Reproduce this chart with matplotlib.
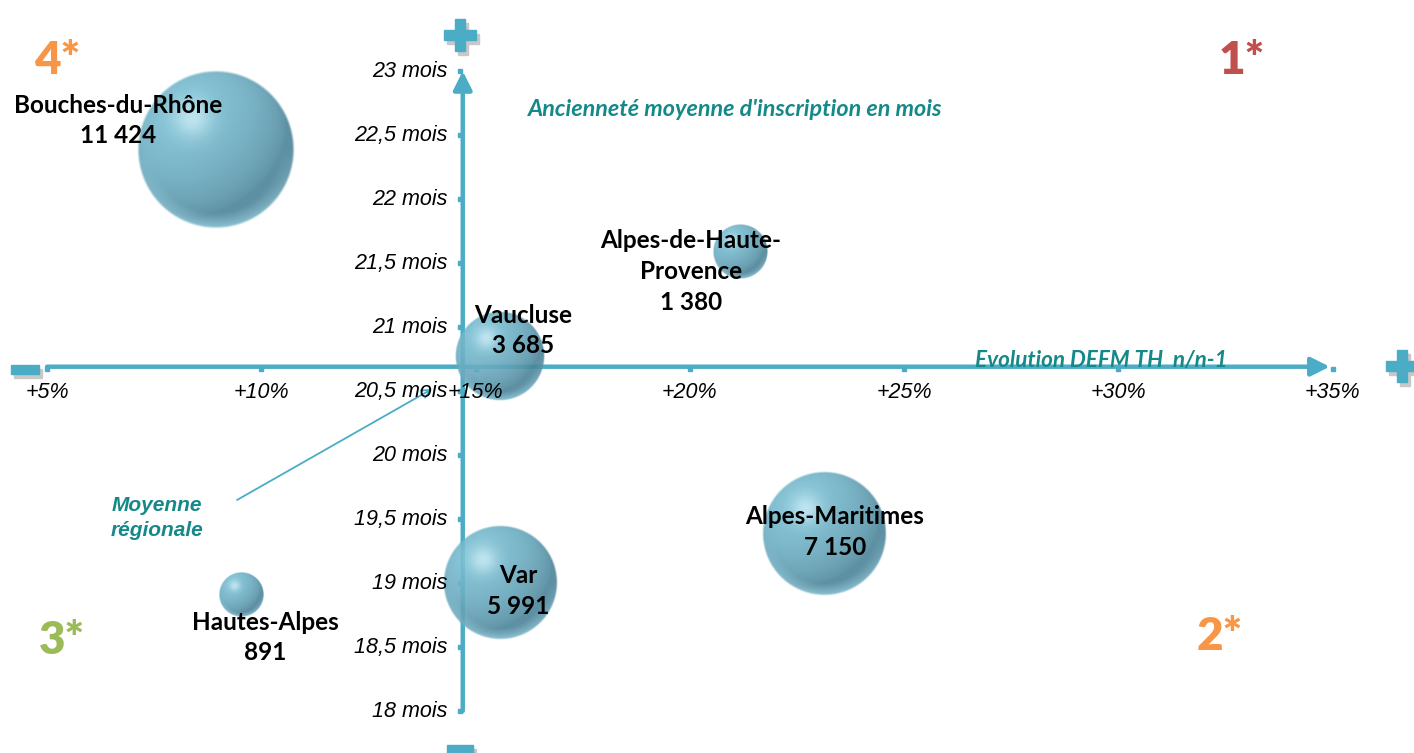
import numpy as np
import matplotlib.pyplot as plt
from matplotlib.patches import Rectangle
from matplotlib.transforms import offset_copy

# departements, effectif DEFM, evolution n/n-1 (%), anciennete moyenne (mois)
departements = ["Bouches-du-Rhône", "Alpes-de-Haute-\nProvence", "Vaucluse",
                "Var", "Alpes-Maritimes", "Hautes-Alpes"]
effectifs = [11424, 1380, 3685, 5991, 7150, 891]
evolution = [8.94, 21.17, 15.57, 15.57, 23.15, 9.53]
anciennete = [22.38, 21.59, 20.77, 19.00, 19.39, 18.91]

# moyenne regionale (croisement des axes)
moyenne_evol = 14.70
moyenne_anc = 20.69

x_ticks = [5, 10, 15, 20, 25, 30, 35]
x_ticklabels = ["+5%", "+10%", "+15%", "+20%", "+25%", "+30%", "+35%"]
y_ticks = [18, 18.5, 19, 19.5, 20, 20.5, 21, 21.5, 22, 22.5, 23]
y_ticklabels = ["18 mois", "18,5 mois", "19 mois", "19,5 mois", "20 mois",
                "20,5 mois", "21 mois", "21,5 mois", "22 mois", "22,5 mois",
                "23 mois"]

quadrants = ["1*", "2*", "3*", "4*"]
quadrant_colors = ["#C0504D", "#F79646", "#9BBB59", "#F79646"]

W, H = 1414, 753
BLUE = "#4BACC6"
TEAL = "#15898A"


def sphere_texture(n=300):
    """Returns an RGBA image of a shaded blue sphere"""
    v, u = np.mgrid[1:-1:n * 1j, -1:1:n * 1j]
    r = np.sqrt(u ** 2 + v ** 2)
    z = np.sqrt(np.clip(1 - r ** 2, 0, 1))
    light = np.array([-0.45, 0.55, 0.70])
    light = light / np.linalg.norm(light)
    diffuse = np.clip(u * light[0] + v * light[1] + z * light[2], 0, 1)

    dark = np.array([0.30, 0.52, 0.60])
    mid = np.array([0.47, 0.74, 0.82])
    high = np.array([0.82, 0.95, 0.98])

    rgb = dark + (mid - dark) * diffuse[..., None] ** 0.8
    spec = np.exp(-((u + 0.30) ** 2 + (v - 0.40) ** 2) / 0.06)
    rgb = rgb + (high - rgb) * (0.7 * spec)[..., None]
    # reflet clair sur le bord bas
    rim = np.clip((r - 0.80) / 0.2, 0, 1) * np.clip(-v, 0, 1)
    rgb = rgb + (np.array([0.62, 0.86, 0.93]) - rgb) * (0.7 * rim)[..., None]
    rgb = np.clip(rgb, 0, 1)

    alpha = np.clip((1 - r) / 0.03, 0, 1) * 0.9
    return np.dstack([rgb, alpha])


fig = plt.figure(figsize=(W / 100, H / 100), dpi=100)
ax = fig.add_axes([0, 0, 1, 1])
ax.set_xlim(3.903, 36.895)
ax.set_ylim(17.672, 23.555)
ax.axis('off')

px_x = W / (ax.get_xlim()[1] - ax.get_xlim()[0])
px_y = H / (ax.get_ylim()[1] - ax.get_ylim()[0])
xl0, yl1 = ax.get_xlim()[0], ax.get_ylim()[1]

# axes fleches
ax.annotate('', xy=(34.93, moyenne_anc), xytext=(x_ticks[0], moyenne_anc),
            arrowprops=dict(arrowstyle='-|>', lw=3.2, color=BLUE,
                            mutation_scale=28, shrinkA=0, shrinkB=0),
            zorder=1)
ax.annotate('', xy=(moyenne_evol, y_ticks[-1]), xytext=(moyenne_evol, y_ticks[0]),
            arrowprops=dict(arrowstyle='-|>', lw=3.2, color=BLUE,
                            mutation_scale=28, shrinkA=0, shrinkB=0),
            zorder=1)

# graduations
tr_x = offset_copy(ax.transData, fig=fig, x=0, y=-2, units='dots')
ax.plot(x_ticks, [moyenne_anc] * len(x_ticks), 's', ms=3.5, color=BLUE,
        transform=tr_x, zorder=1)
tr_y = offset_copy(ax.transData, fig=fig, x=-3, y=0, units='dots')
ax.plot([moyenne_evol] * len(y_ticks), y_ticks, 's', ms=3.5, color=BLUE,
        transform=tr_y, zorder=1)

for t, lab in zip(x_ticks, x_ticklabels):
    ax.text(t, moyenne_anc - 26 / px_y, lab, ha='center', va='center',
            fontsize=15.5, style='italic', family='Liberation Sans', zorder=5)
for t, lab in zip(y_ticks, y_ticklabels):
    ax.text(moyenne_evol - 15 / px_x, t, lab, ha='right', va='center',
            fontsize=15.5, style='italic', family='Liberation Sans', zorder=5)

# bulles
tex = sphere_texture()
r_max = 79
for x, y, n in zip(evolution, anciennete, effectifs):
    r = r_max * np.sqrt(n / max(effectifs))
    ax.imshow(tex, extent=(x - r / px_x, x + r / px_x, y - r / px_y, y + r / px_y),
              aspect='auto', origin='upper', zorder=3, interpolation='bilinear')

# etiquettes des bulles (decalage en pixels)
offsets = [(-98, 30), (-49, -20), (23, 26), (18, -8), (10, 1), (24, -43)]
for name, x, y, n, off in zip(departements, evolution, anciennete, effectifs, offsets):
    label = name + "\n" + f"{n:,}".replace(",", " ")
    ax.annotate(label, xy=(x, y), xytext=off, textcoords='offset pixels',
                ha='center', va='center', multialignment='center',
                fontsize=17.5, fontweight='bold', family='Lato',
                linespacing=1.4, zorder=6)

# titres des axes
ax.text(xl0 + 735 / px_x, yl1 - 110 / px_y,
        "Ancienneté moyenne d'inscription en mois", ha='center', va='center',
        fontsize=16.8, fontweight='bold', style='italic', family='Lato',
        color=TEAL, zorder=6)
ax.text(xl0 + 1101 / px_x, yl1 - 361 / px_y,
        "Evolution DEFM TH  n/n-1", ha='center', va='center',
        fontsize=16.2, fontweight='bold', style='italic', family='Lato',
        color=TEAL, zorder=6)

# moyenne regionale
ax.annotate('', xy=(xl0 + 432 / px_x, yl1 - 389 / px_y),
            xytext=(xl0 + 237 / px_x, yl1 - 500 / px_y),
            arrowprops=dict(arrowstyle='->', lw=1.3, color=BLUE,
                            mutation_scale=15, shrinkA=0, shrinkB=0),
            zorder=4)
ax.text(xl0 + 157 / px_x, yl1 - 518 / px_y, "Moyenne\nrégionale",
        ha='center', va='center', fontsize=15, fontweight='bold',
        style='italic', family='Liberation Sans', color=TEAL,
        linespacing=1.35, zorder=6)

# numeros de quadrants
quad_pos = [(1242, 60), (1220, 637), (62, 640), (57, 60)]
for lab, col, (qx, qy) in zip(quadrants, quadrant_colors, quad_pos):
    ax.text(xl0 + qx / px_x, yl1 - qy / px_y, lab, ha='center', va='center',
            fontsize=33, fontweight='heavy', family='Lato', color=col, zorder=6)


def bar(cx, cy, w, h):
    """Rectangle centre en pixels (y depuis le haut)"""
    for dx, dy, c in [(3, 4, '#c8c8c8'), (0, 0, BLUE)]:
        fig.add_artist(Rectangle(((cx - w / 2 + dx) / W, 1 - (cy + h / 2 + dy) / H),
                                 w / W, h / H, transform=fig.transFigure,
                                 color=c, zorder=2 if dx == 0 else 1))


# signes + et -
bar(460, 35, 32, 10)
bar(460, 35, 10, 32)
bar(1402, 366, 32, 10)
bar(1402, 366, 10, 32)
bar(25, 369, 28, 9)
bar(460, 749, 26, 9)

fig.savefig("out.png", dpi=100)
